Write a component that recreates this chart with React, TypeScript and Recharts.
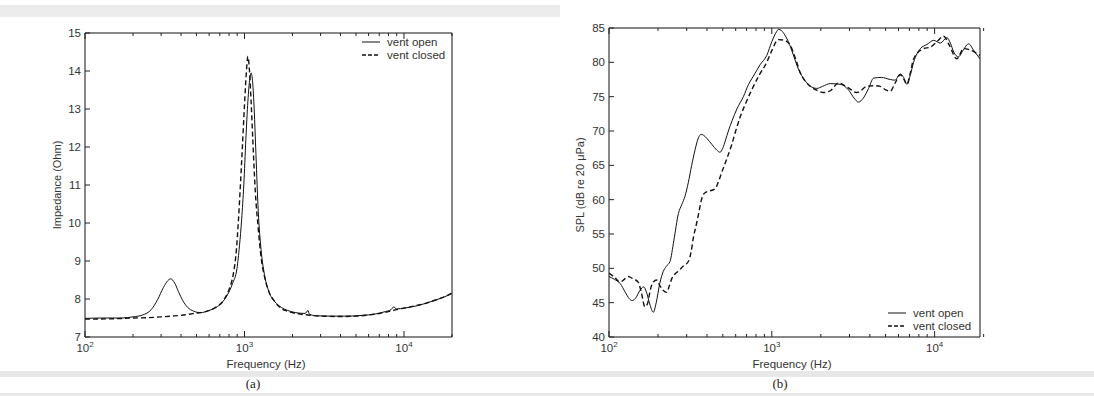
import { LineChart, Line, XAxis, YAxis } from "recharts";

// ---- left panel: impedance ----
const impOpenF = [100, 130, 170, 200, 230, 260, 285, 310, 330, 345, 365, 385, 410, 440, 480, 530, 600, 660, 720, 780, 840, 897, 930, 960, 990, 1020, 1050, 1080, 1100, 1125, 1150, 1180, 1220, 1270, 1333, 1420, 1550, 1700, 1860, 2100, 2400, 2500, 2550, 2800, 3500, 4500, 5500, 6500, 7500, 8300, 8600, 9000, 10000, 12000, 14000, 16000, 18000, 20000];
const impOpenV = [7.49, 7.5, 7.5, 7.53, 7.58, 7.72, 7.98, 8.3, 8.48, 8.53, 8.42, 8.2, 7.96, 7.78, 7.68, 7.64, 7.7, 7.77, 7.9, 8.1, 8.4, 8.8, 9.4, 10.1, 11.0, 12.2, 13.2, 13.8, 13.95, 13.7, 13.0, 11.8, 10.3, 9.3, 8.65, 8.2, 7.93, 7.78, 7.7, 7.64, 7.62, 7.7, 7.6, 7.56, 7.55, 7.55, 7.57, 7.6, 7.66, 7.72, 7.79, 7.74, 7.76, 7.82, 7.9, 7.98, 8.06, 8.14];
const impClosedF = [100, 150, 200, 250, 300, 350, 400, 450, 500, 560, 620, 680, 720, 753, 800, 850, 890, 914, 940, 970, 1000, 1025, 1050, 1075, 1100, 1130, 1170, 1217, 1270, 1333, 1420, 1550, 1700, 1860, 2100, 2500, 3000, 4000, 5000, 6000, 7000, 8000, 9000, 10000, 12000, 14000, 16000, 18000, 20000];
const impClosedV = [7.47, 7.48, 7.5, 7.51, 7.53, 7.55, 7.57, 7.6, 7.63, 7.66, 7.72, 7.82, 7.9, 8.02, 8.25, 8.65, 9.3, 10.0, 10.9, 12.0, 13.1, 13.9, 14.38, 14.0, 13.2, 12.1, 10.8, 9.9, 9.1, 8.6, 8.2, 7.93, 7.75, 7.68, 7.62, 7.58, 7.55, 7.54, 7.55, 7.58, 7.62, 7.67, 7.72, 7.76, 7.83, 7.9, 7.98, 8.06, 8.16];
const impTicks = [7, 8, 9, 10, 11, 12, 13, 14, 15];

// ---- right panel: SPL ----
const splOpenF = [100, 108, 117, 126, 133, 139, 146, 155, 163, 170, 178, 187, 195, 205, 215, 225, 237, 250, 267, 280, 293, 307, 322, 338, 354, 368, 380, 400, 430, 460, 481, 500, 520, 541, 570, 610, 669, 720, 771, 850, 931, 1000, 1072, 1097, 1150, 1200, 1265, 1350, 1458, 1550, 1641, 1760, 1891, 2050, 2285, 2630, 2955, 3200, 3410, 3650, 3930, 4220, 4700, 5340, 5700, 6150, 6450, 6760, 7100, 7430, 8170, 8980, 9860, 10840, 11900, 12500, 13100, 14000, 15000, 16200, 17300, 19000];
const splOpenV = [48.8, 48.4, 47.8, 46.5, 45.6, 45.3, 45.7, 46.8, 47.3, 46.5, 44.8, 43.6, 45.0, 47.8, 49.5, 50.3, 51.0, 54.0, 58.0, 59.3, 60.5, 62.5, 65.0, 67.3, 69.0, 69.5, 69.4, 68.9, 68.0, 67.2, 66.9, 67.5, 68.7, 70.0, 71.5, 73.2, 75.0, 76.8, 78.0, 79.7, 81.0, 83.0, 84.5, 84.8, 84.6, 84.0, 83.0, 81.2, 79.0, 77.8, 77.0, 76.4, 76.2, 76.5, 76.9, 76.8, 76.0, 74.8, 74.2, 74.8, 76.2, 77.7, 77.8, 77.5, 77.4, 78.3, 77.8, 76.8, 78.2, 80.0, 82.0, 82.6, 83.2, 82.8, 83.6, 82.8, 81.5, 80.8, 81.8, 82.7, 81.8, 80.5];
const splClosedF = [100, 108, 117, 124, 131, 140, 151, 158, 166, 172, 180, 187, 196, 205, 215, 226, 235, 243, 255, 267, 285, 307, 320, 330, 341, 352, 362, 375, 389, 420, 449, 470, 493, 530, 567, 600, 638, 690, 753, 840, 931, 1000, 1097, 1200, 1296, 1400, 1494, 1600, 1722, 1900, 2080, 2300, 2570, 2900, 3330, 3840, 4200, 4630, 5000, 5340, 5730, 6150, 6450, 6760, 7100, 7430, 8550, 9400, 10330, 11350, 12300, 13700, 15060, 16500, 19000];
const splClosedV = [49.3, 48.7, 48.0, 48.4, 48.8, 48.5, 48.0, 46.5, 44.4, 44.8, 47.0, 48.0, 48.3, 47.5, 46.8, 46.5, 47.5, 48.5, 49.2, 49.6, 50.3, 51.0, 52.5, 54.5, 56.0, 57.5, 59.0, 60.5, 61.0, 61.3, 61.6, 62.6, 64.0, 66.0, 68.0, 70.0, 72.0, 74.0, 76.0, 78.2, 80.0, 81.7, 83.3, 83.2, 82.5, 80.5, 78.5, 77.3, 76.5, 75.9, 75.6, 75.9, 77.0, 76.4, 75.6, 76.5, 76.6, 76.5, 76.0, 75.8, 77.0, 78.2, 77.6, 76.8, 78.5, 80.5, 82.0, 82.2, 83.0, 83.8, 82.5, 80.5, 82.0, 81.8, 81.0];
const splTicks = [40, 45, 50, 55, 60, 65, 70, 75, 80, 85];

const freqTicks = [100, 200, 300, 400, 500, 600, 700, 800, 900, 1000, 2000, 3000, 4000, 5000, 6000, 7000, 8000, 9000, 10000, 20000];
const decades: Record<number, string> = { 100: "2", 1000: "3", 10000: "4" };

const seriesNames = ["vent open", "vent closed"];

const zip = (f: number[], v: number[]) => f.map((x, i) => ({ f: x, v: v[i] }));

const FONT = "'Liberation Sans', Arial, sans-serif";
const INK = "#333";

function BottomTick({ x, y, payload }: any) {
  const p = decades[payload.value];
  const len = p ? 6 : 3;
  return (
    <g>
      <line x1={x} x2={x} y1={y} y2={y - len} stroke="#222" />
      {p && (
        <text x={x} y={y + 15} textAnchor="middle" fontFamily={FONT} fontSize={11.5} fill={INK}>
          10<tspan dy={-5} fontSize={8}>{p}</tspan>
        </text>
      )}
    </g>
  );
}

function TopTick({ x, y, payload }: any) {
  const len = decades[payload.value] ? 6 : 3;
  return <line x1={x} x2={x} y1={y} y2={y + len} stroke="#222" />;
}

function LeftTick({ x, y, payload }: any) {
  return (
    <g>
      <line x1={x} x2={x + 5} y1={y} y2={y} stroke="#222" />
      <text x={x - 4} y={y + 4} textAnchor="end" fontFamily={FONT} fontSize={11.5} fill={INK}>
        {payload.value}
      </text>
    </g>
  );
}

function RightTick({ x, y }: any) {
  return <line x1={x} x2={x - 5} y1={y} y2={y} stroke="#222" />;
}

function Panel({ open, closed, yDomain, yTicks, xMax, width, margin }: any) {
  return (
    <LineChart width={width} height={396} margin={margin}>
      <XAxis xAxisId="b" dataKey="f" type="number" scale="log" domain={[100, xMax]} ticks={freqTicks} allowDataOverflow
        height={30} tickSize={0} tickMargin={0} tickLine={false} axisLine={{ stroke: "#111" }} tick={<BottomTick />} interval={0} />
      <XAxis xAxisId="t" orientation="top" dataKey="f" type="number" scale="log" domain={[100, xMax]} ticks={freqTicks} allowDataOverflow
        height={1} tickSize={0} tickMargin={0} tickLine={false} axisLine={{ stroke: "#111" }} tick={<TopTick />} interval={0} />
      <YAxis yAxisId="l" type="number" domain={yDomain} ticks={yTicks} width={40} tickSize={0} tickMargin={0}
        tickLine={false} axisLine={{ stroke: "#111" }} tick={<LeftTick />} interval={0} />
      <YAxis yAxisId="r" orientation="right" type="number" domain={yDomain} ticks={yTicks} width={1} tickSize={0} tickMargin={0}
        tickLine={false} axisLine={{ stroke: "#111" }} tick={<RightTick />} interval={0} />
      <Line xAxisId="b" yAxisId="l" data={open} dataKey="v" name={seriesNames[0]} type="monotone" stroke="#111"
        strokeWidth={1} dot={false} isAnimationActive={false} />
      <Line xAxisId="b" yAxisId="l" data={closed} dataKey="v" name={seriesNames[1]} type="monotone" stroke="#111"
        strokeWidth={1.4} strokeDasharray="5 3" dot={false} isAnimationActive={false} />
    </LineChart>
  );
}

function LegendBox({ x, y }: { x: number; y: number }) {
  return (
    <g fontFamily={FONT} fontSize={11.5} fill={INK}>
      <line x1={x} x2={x + 18} y1={y} y2={y} stroke="#111" strokeWidth={1} />
      <text x={x + 25} y={y + 4}>{seriesNames[0]}</text>
      <line x1={x} x2={x + 18} y1={y + 13} y2={y + 13} stroke="#111" strokeWidth={1.4} strokeDasharray="4 2" />
      <text x={x + 25} y={y + 17}>{seriesNames[1]}</text>
    </g>
  );
}

export default function App() {
  return (
    <div style={{ position: "absolute", left: 0, top: 0, width: 1094, height: 396, background: "#fff", overflow: "hidden" }}>
      <svg width={1094} height={396} style={{ position: "absolute", left: 0, top: 0 }}>
        <rect x={0} y={5} width={560} height={12} fill="#ececec" />
        <rect x={0} y={371} width={1094} height={6} fill="#e8e8e8" />
        <rect x={0} y={393} width={1094} height={3} fill="#e8e8e8" />
      </svg>
      <div style={{ position: "absolute", left: 0, top: 0 }}>
        <Panel open={zip(impOpenF, impOpenV)} closed={zip(impClosedF, impClosedV)} yDomain={[7, 15]} yTicks={impTicks}
          xMax={20000} width={500} margin={{ top: 32, left: 45, right: 47, bottom: 29 }} />
      </div>
      <div style={{ position: "absolute", left: 540, top: 0 }}>
        <Panel open={zip(splOpenF, splOpenV)} closed={zip(splClosedF, splClosedV)} yDomain={[40, 85]} yTicks={splTicks}
          xMax={19000} width={554} margin={{ top: 27, left: 29, right: 113, bottom: 29 }} />
      </div>
      <svg width={1094} height={396} style={{ position: "absolute", left: 0, top: 0, pointerEvents: "none" }}>
        <LegendBox x={362} y={42} />
        <LegendBox x={888} y={313} />
        <text x={266} y={368} textAnchor="middle" fontFamily={FONT} fontSize={11.5} fill={INK}>Frequency (Hz)</text>
        <text x={792} y={368} textAnchor="middle" fontFamily={FONT} fontSize={11.5} fill={INK}>Frequency (Hz)</text>
        <text transform="translate(61,185) rotate(-90)" textAnchor="middle" fontFamily={FONT} fontSize={11} fill={INK}>Impedance (Ohm)</text>
        <text transform="translate(584,185) rotate(-90)" textAnchor="middle" fontFamily={FONT} fontSize={11} fill={INK}>SPL (dB re 20 μPa)</text>
        <text x={253} y={388} textAnchor="middle" fontFamily="'Liberation Serif', 'Times New Roman', serif" fontSize={13} fill="#222">(a)</text>
        <text x={780} y={388} textAnchor="middle" fontFamily="'Liberation Serif', 'Times New Roman', serif" fontSize={13} fill="#222">(b)</text>
      </svg>
    </div>
  );
}
